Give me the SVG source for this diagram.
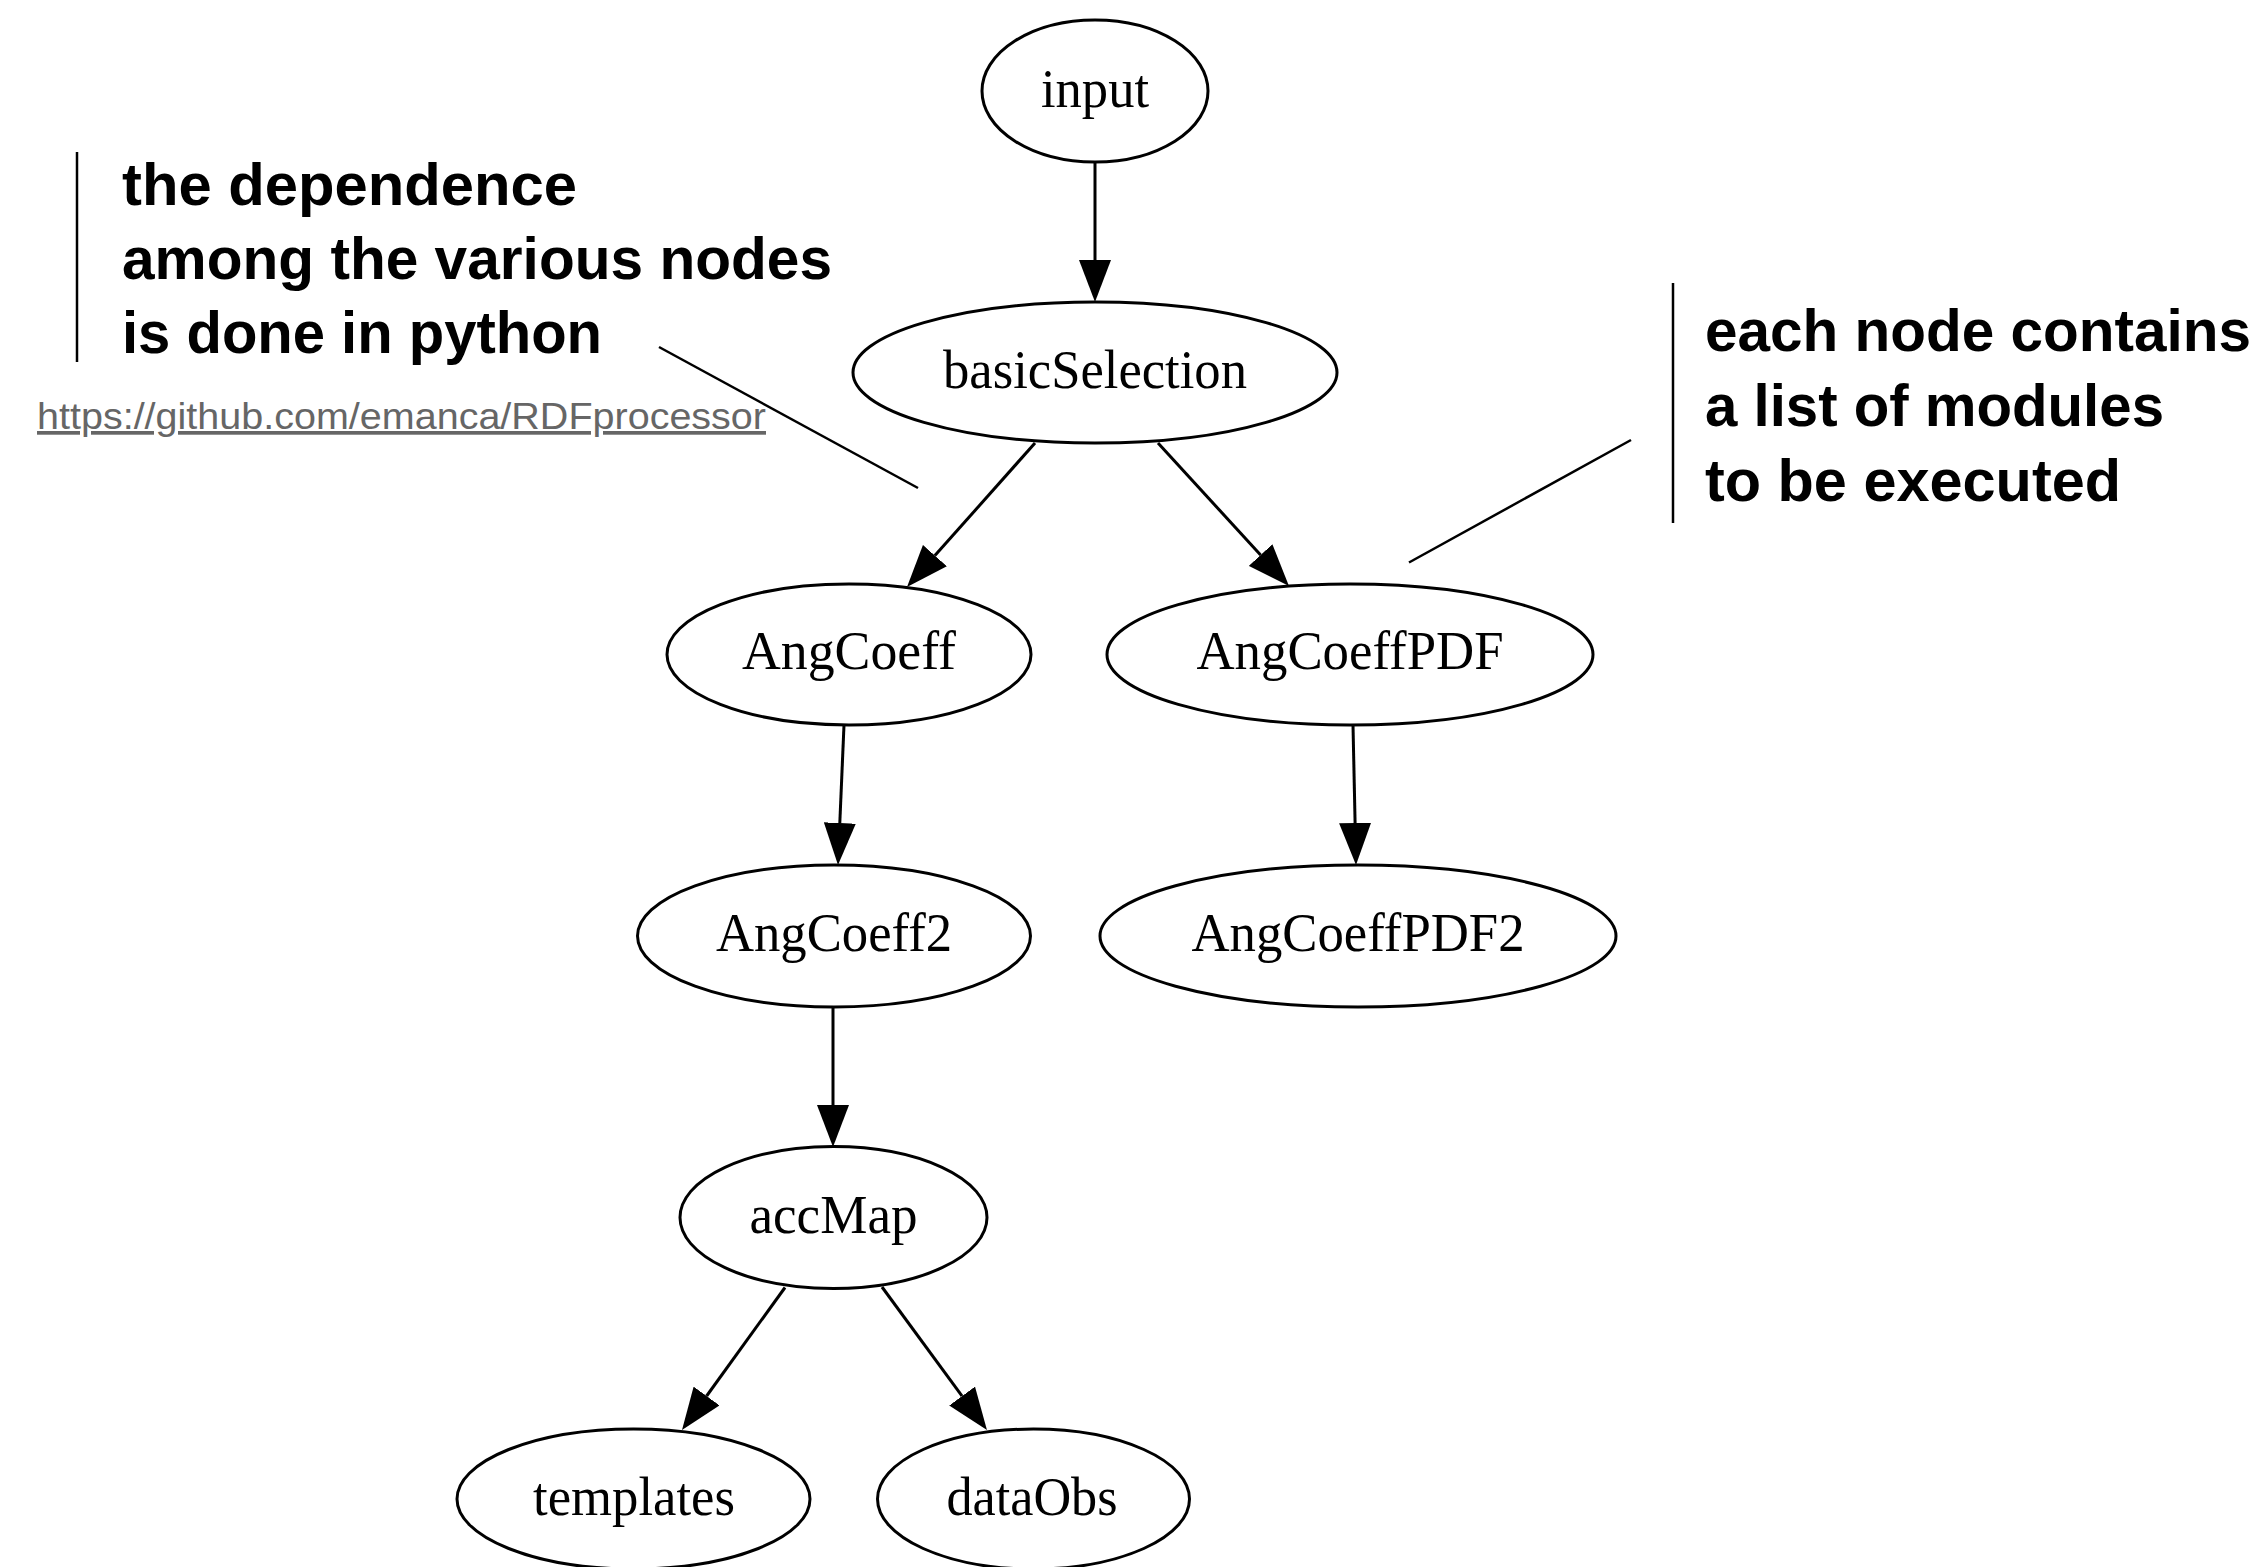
<svg xmlns="http://www.w3.org/2000/svg" width="2264" height="1567" viewBox="0 0 2264 1567">
<style>
.node ellipse{fill:#fff;stroke:#000;stroke-width:3}
.node text{font-family:"Liberation Serif","Times New Roman",serif;font-size:55px;fill:#000;text-anchor:middle}
.edge{fill:none;stroke:#000;stroke-width:3;marker-end:url(#arr)}
.note{font-family:"Liberation Sans",Arial,sans-serif;font-size:60px;font-weight:bold;fill:#000}
.bar{stroke:#000;stroke-width:2.5;fill:none}
.url{font-family:"Liberation Sans",Arial,sans-serif;font-size:37px;fill:#666;text-decoration:underline}
</style>
<defs>
<marker id="arr" markerUnits="userSpaceOnUse" viewBox="0 0 42 32" markerWidth="42" markerHeight="32" refX="0" refY="16" orient="auto">
<path d="M0,0 L42,16 L0,32 Z" fill="#000"/>
</marker>
</defs>
<rect width="2264" height="1567" fill="#fff"/>
<g id="connectors">
<path class="edge" d="M1095,162 L1095,260"/>
<path class="edge" d="M1035,443 L934.9,555.6"/>
<path class="edge" d="M1158,443 L1260.6,555"/>
<path class="edge" d="M844,725 L839.8,823"/>
<path class="edge" d="M1353,725 L1355.1,823"/>
<path class="edge" d="M833,1007 L833,1105"/>
<path class="edge" d="M785,1287.5 L706.6,1396"/>
<path class="edge" d="M882,1287 L962.1,1396.1"/>
</g>
<g id="node-input" class="node"><ellipse cx="1095" cy="91" rx="113" ry="71"/><text x="1095" y="106.5" textLength="108" lengthAdjust="spacingAndGlyphs">input</text></g>
<g id="node-basicSelection" class="node"><ellipse cx="1095" cy="372.5" rx="242" ry="70.5"/><text x="1095" y="387.5" textLength="304" lengthAdjust="spacingAndGlyphs">basicSelection</text></g>
<g id="node-AngCoeff" class="node"><ellipse cx="849" cy="654.5" rx="182" ry="70.5"/><text x="849" y="669" textLength="214" lengthAdjust="spacingAndGlyphs">AngCoeff</text></g>
<g id="node-AngCoeffPDF" class="node"><ellipse cx="1350" cy="654.5" rx="243" ry="70.5"/><text x="1350" y="669" textLength="307" lengthAdjust="spacingAndGlyphs">AngCoeffPDF</text></g>
<g id="node-AngCoeff2" class="node"><ellipse cx="834" cy="936" rx="196.5" ry="71"/><text x="834" y="951" textLength="236" lengthAdjust="spacingAndGlyphs">AngCoeff2</text></g>
<g id="node-AngCoeffPDF2" class="node"><ellipse cx="1358" cy="936" rx="258" ry="71"/><text x="1358" y="951" textLength="333" lengthAdjust="spacingAndGlyphs">AngCoeffPDF2</text></g>
<g id="node-accMap" class="node"><ellipse cx="833.5" cy="1217.5" rx="153.5" ry="71"/><text x="833.5" y="1232.5" textLength="168" lengthAdjust="spacingAndGlyphs">accMap</text></g>
<g id="node-templates" class="node"><ellipse cx="633.5" cy="1499" rx="176.5" ry="70"/><text x="634" y="1515" textLength="202" lengthAdjust="spacingAndGlyphs">templates</text></g>
<g id="node-dataObs" class="node"><ellipse cx="1033.5" cy="1499" rx="156" ry="70"/><text x="1032" y="1515" textLength="171" lengthAdjust="spacingAndGlyphs">dataObs</text></g>
<g id="note-left">
<line class="bar" x1="77" y1="152" x2="77" y2="362"/>
<text class="note" x="122" y="205" textLength="455" lengthAdjust="spacingAndGlyphs">the dependence</text>
<text class="note" x="122" y="279" textLength="710" lengthAdjust="spacingAndGlyphs">among the various nodes</text>
<text class="note" x="122" y="353" textLength="480" lengthAdjust="spacingAndGlyphs">is done in python</text>
<line class="bar" x1="659" y1="347" x2="918" y2="488"/>
<text class="url" x="37" y="429" textLength="729" lengthAdjust="spacingAndGlyphs">https://github.com/emanca/RDFprocessor</text>
</g>
<g id="note-right">
<line class="bar" x1="1673" y1="283" x2="1673" y2="523"/>
<text class="note" x="1705" y="350.5" textLength="546" lengthAdjust="spacingAndGlyphs">each node contains</text>
<text class="note" x="1705" y="425.5" textLength="459" lengthAdjust="spacingAndGlyphs">a list of modules</text>
<text class="note" x="1705" y="500.5" textLength="416" lengthAdjust="spacingAndGlyphs">to be executed</text>
<line class="bar" x1="1631" y1="440" x2="1409" y2="562.5"/>
</g>
</svg>
